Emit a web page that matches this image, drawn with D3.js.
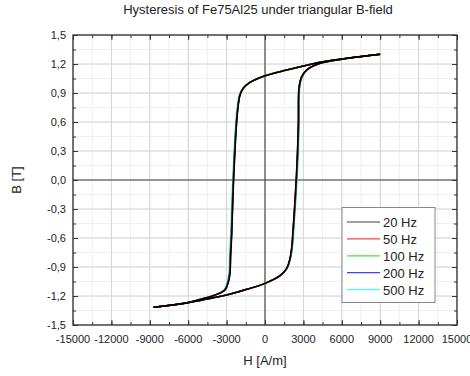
<!DOCTYPE html>
<html>
<head>
<meta charset="utf-8">
<script src="https://cdn.jsdelivr.net/npm/d3@7"></script>
<style>
  body { margin: 0; background: #fff; }
  svg { font-family: "Liberation Sans", Arial, sans-serif; }
</style>
</head>
<body>
<div id="chart"></div>
<script>
// loop data: shared B levels per branch, H values per frequency
var frequencies = ["20 Hz", "50 Hz", "100 Hz", "200 Hz", "500 Hz"];
var colors = ["#000000", "#ff0000", "#00e000", "#0000ff", "#00ffff"];

// descending branch (H from +max to -max)
var bDown = [1.30, 1.25, 1.218, 1.18, 1.138, 1.079, 1.01, 0.95, 0.88, 0.78, 0.60, 0.00, -0.57, -0.78, -0.96, -1.05, -1.138, -1.197, -1.24, -1.275, -1.317];
var hDown20  = [9000, 5900, 4300, 3000, 1690, 0, -1170, -1690, -1950, -2080, -2210, -2450, -2600, -2680, -2730, -2850, -3125, -4040, -5200, -6300, -8700];
var hDown50  = [9000, 5950, 4330, 3030, 1710, 10, -1160, -1690, -1960, -2090, -2220, -2460, -2610, -2690, -2740, -2860, -3130, -4040, -5200, -6300, -8700];
var hDown100 = [8980, 5900, 4300, 3000, 1690, 0, -1180, -1700, -1970, -2100, -2230, -2470, -2620, -2700, -2750, -2870, -3150, -4060, -5220, -6300, -8720];
var hDown200 = [8990, 5910, 4310, 3010, 1700, 0, -1180, -1700, -1970, -2100, -2240, -2480, -2630, -2710, -2760, -2880, -3160, -4070, -5220, -6310, -8710];
var hDown500 = [8950, 5880, 4280, 2980, 1670, -20, -1200, -1730, -2000, -2140, -2280, -2520, -2680, -2760, -2810, -2930, -3200, -4100, -5240, -6320, -8700];

// ascending branch (H from -max to +max)
var bUp = [-1.317, -1.27, -1.217, -1.19, -1.131, -1.069, -0.99, -0.914, -0.81, -0.70, -0.57, 0.10, 0.57, 0.95, 1.07, 1.14, 1.207, 1.25, 1.30];
var hUp20  = [-8700, -6000, -4040, -3000, -1430, 0, 1170, 1690, 1950, 2080, 2160, 2470, 2600, 2650, 2860, 3260, 4300, 6000, 9000];
var hUp50  = [-8700, -6000, -4040, -3000, -1420, 10, 1180, 1700, 1960, 2090, 2170, 2480, 2610, 2660, 2870, 3280, 4330, 6050, 9000];
var hUp100 = [-8730, -6040, -4070, -3020, -1440, 0, 1180, 1710, 1970, 2100, 2180, 2490, 2620, 2670, 2880, 3280, 4310, 6000, 8980];
var hUp200 = [-8710, -6010, -4050, -3010, -1430, 0, 1180, 1710, 1980, 2110, 2190, 2500, 2630, 2680, 2890, 3290, 4320, 6010, 8990];
var hUp500 = [-8700, -5970, -4000, -2960, -1400, 30, 1200, 1710, 2000, 2140, 2220, 2540, 2670, 2710, 2920, 3310, 4330, 5990, 8950];

var hDownSets = [hDown20, hDown50, hDown100, hDown200, hDown500];
var hUpSets = [hUp20, hUp50, hUp100, hUp200, hUp500];

var xTicks = [-15000, -12000, -9000, -6000, -3000, 0, 3000, 6000, 9000, 12000, 15000];
var yTicks = [-1.5, -1.2, -0.9, -0.6, -0.3, 0, 0.3, 0.6, 0.9, 1.2, 1.5];
var yTickLabels = ["-1,5", "-1,2", "-0,9", "-0,6", "-0,3", "0,0", "0,3", "0,6", "0,9", "1,2", "1,5"];

var width = 470, height = 376;
var plotLeft = 73, plotRight = 457, plotTop = 35, plotBottom = 325;

var svg = d3.select("#chart").append("svg")
  .attr("width", width)
  .attr("height", height);

var x = d3.scaleLinear().domain([-15000, 15000]).range([plotLeft, plotRight]);
var y = d3.scaleLinear().domain([-1.5, 1.5]).range([plotBottom, plotTop]);

var xMinor = d3.range(-10, 11).map(function (i) { return i * 1500; });
var yMinor = d3.range(-10, 11).map(function (i) { return i * 0.15; });

// minor grid
var grid = svg.append("g");
grid.selectAll(".gx-minor").data(xMinor).enter().append("line")
  .attr("x1", function (d) { return x(d); }).attr("x2", function (d) { return x(d); })
  .attr("y1", plotTop).attr("y2", plotBottom)
  .attr("stroke", "#f0f0f0").attr("stroke-width", 1);
grid.selectAll(".gy-minor").data(yMinor).enter().append("line")
  .attr("y1", function (d) { return y(d); }).attr("y2", function (d) { return y(d); })
  .attr("x1", plotLeft).attr("x2", plotRight)
  .attr("stroke", "#f0f0f0").attr("stroke-width", 1);

// major grid
grid.selectAll(".gx").data(xTicks).enter().append("line")
  .attr("x1", function (d) { return x(d); }).attr("x2", function (d) { return x(d); })
  .attr("y1", plotTop).attr("y2", plotBottom)
  .attr("stroke", "#d6d6d6").attr("stroke-width", 1);
grid.selectAll(".gy").data(yTicks).enter().append("line")
  .attr("y1", function (d) { return y(d); }).attr("y2", function (d) { return y(d); })
  .attr("x1", plotLeft).attr("x2", plotRight)
  .attr("stroke", "#d6d6d6").attr("stroke-width", 1);

// zero lines
svg.append("line")
  .attr("x1", x(0)).attr("x2", x(0)).attr("y1", plotTop).attr("y2", plotBottom)
  .attr("stroke", "#444").attr("stroke-width", 1.1);
svg.append("line")
  .attr("x1", plotLeft).attr("x2", plotRight).attr("y1", y(0)).attr("y2", y(0))
  .attr("stroke", "#444").attr("stroke-width", 1.1);

// curves, black last so it sits on top
var line = d3.line()
  .x(function (d) { return x(d[0]); })
  .y(function (d) { return y(d[1]); })
  .curve(d3.curveCatmullRom.alpha(0.5));

var curves = svg.append("g");
for (var i = frequencies.length - 1; i >= 0; i--) {
  var down = hDownSets[i].map(function (h, k) { return [h, bDown[k]]; });
  var up = hUpSets[i].map(function (h, k) { return [h, bUp[k]]; });
  [down, up].forEach(function (pts) {
    curves.append("path")
      .datum(pts)
      .attr("d", line)
      .attr("fill", "none")
      .attr("stroke", colors[i])
      .attr("stroke-width", 1.5);
  });
}

// axes with inward ticks on all four sides
function tickAxes(axisFn, scale, major, minor, transform) {
  svg.append("g").attr("transform", transform)
    .call(axisFn(scale).tickValues(minor).tickSize(3).tickFormat(""))
    .call(function (g) { g.select(".domain").remove(); })
    .selectAll("line").attr("stroke", "#333");
  svg.append("g").attr("transform", transform)
    .call(axisFn(scale).tickValues(major).tickSize(5).tickFormat(""))
    .call(function (g) { g.select(".domain").remove(); })
    .selectAll("line").attr("stroke", "#333");
}
tickAxes(d3.axisTop, x, xTicks, xMinor, "translate(0," + plotBottom + ")");
tickAxes(d3.axisBottom, x, xTicks, xMinor, "translate(0," + plotTop + ")");
tickAxes(d3.axisRight, y, yTicks, yMinor, "translate(" + plotLeft + ",0)");
tickAxes(d3.axisLeft, y, yTicks, yMinor, "translate(" + plotRight + ",0)");

// frame
svg.append("rect")
  .attr("x", plotLeft).attr("y", plotTop)
  .attr("width", plotRight - plotLeft).attr("height", plotBottom - plotTop)
  .attr("fill", "none").attr("stroke", "#333").attr("stroke-width", 1.3);

// tick labels
svg.append("g").selectAll("text").data(xTicks).enter().append("text")
  .attr("x", function (d) { return x(d); })
  .attr("y", 343)
  .attr("text-anchor", "middle")
  .attr("font-size", 11).attr("fill", "#222")
  .text(function (d) { return d; });
svg.append("g").selectAll("text").data(yTicks).enter().append("text")
  .attr("x", 66)
  .attr("y", function (d) { return y(d) + 4; })
  .attr("text-anchor", "end")
  .attr("font-size", 11).attr("fill", "#222")
  .text(function (d, i) { return yTickLabels[i]; });

// titles
svg.append("text")
  .attr("x", 258).attr("y", 14)
  .attr("text-anchor", "middle")
  .attr("font-size", 13).attr("fill", "#222")
  .text("Hysteresis of Fe75Al25 under triangular B-field");
svg.append("text")
  .attr("x", x(0)).attr("y", 365)
  .attr("text-anchor", "middle")
  .attr("font-size", 13).attr("fill", "#222")
  .text("H [A/m]");
svg.append("text")
  .attr("transform", "translate(21," + y(0) + ") rotate(-90)")
  .attr("text-anchor", "middle")
  .attr("font-size", 13).attr("fill", "#222")
  .text("B [T]");

// legend
var legend = svg.append("g");
legend.append("rect")
  .attr("x", 342).attr("y", 207.5)
  .attr("width", 93).attr("height", 95)
  .attr("fill", "#fff").attr("stroke", "#888").attr("stroke-width", 1);
var rows = legend.selectAll("g.row").data(frequencies).enter().append("g")
  .attr("transform", function (d, i) { return "translate(0," + (222 + i * 16.9) + ")"; });
rows.append("line")
  .attr("x1", 347).attr("x2", 380).attr("y1", 0).attr("y2", 0)
  .attr("stroke", function (d, i) { return colors[i]; })
  .attr("stroke-opacity", 0.75)
  .attr("stroke-width", 1.2);
rows.append("text")
  .attr("x", 383).attr("y", 5)
  .attr("font-size", 13).attr("fill", "#222")
  .text(function (d) { return d; });
</script>
</body>
</html>
